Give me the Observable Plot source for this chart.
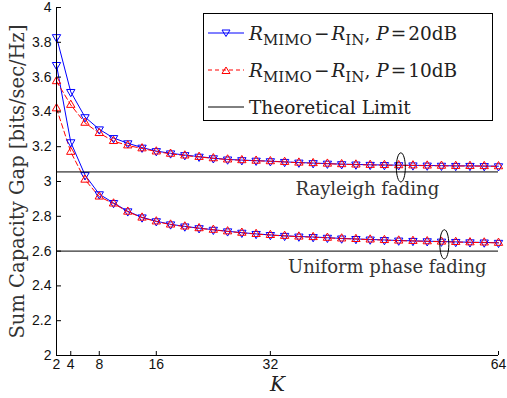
<!DOCTYPE html>
<html>
<head>
<meta charset="utf-8">
<script src="https://cdn.jsdelivr.net/npm/d3@7"></script>
<script src="https://cdn.jsdelivr.net/npm/@observablehq/plot@0.6"></script>
<style>
  html, body { margin: 0; padding: 0; background: #fff; }
  #wrap { position: relative; width: 507px; height: 398px; }
  #legend {
    position: absolute; left: 203px; top: 13px; width: 288px; height: 106px;
    border: 1px solid #000; background: #fff; box-sizing: content-box;
    font-family: "DejaVu Serif", serif; font-size: 18.5px; color: #222;
  }
  .row { position: absolute; left: 0; height: 24px; display: flex; align-items: center; white-space: nowrap; }
  .row svg { margin-left: 4px; margin-right: 5px; flex: none; }
  sub { font-size: 15px; vertical-align: -5px; line-height: 0; font-style: normal; }
  i { font-style: italic; }
  .op { margin: 0 2px; }
</style>
</head>
<body>
<div id="wrap"></div>
<script>
// ---- data ----
const K = [2,4,6,8,10,12,14,16,18,20,22,24,26,28,30,32,34,36,38,40,42,44,46,48,50,52,54,56,58,60,62,64];
const rayleigh20 = [3.83,3.515,3.37,3.30,3.25,3.22,3.195,3.175,3.162,3.152,3.143,3.134,3.127,3.123,3.12,3.117,3.113,3.109,3.106,3.103,3.1,3.098,3.096,3.095,3.094,3.093,3.092,3.091,3.09,3.09,3.089,3.088];
const rayleigh10 = [3.576,3.44,3.337,3.278,3.232,3.207,3.19,3.172,3.159,3.149,3.141,3.133,3.126,3.122,3.119,3.116,3.112,3.108,3.105,3.102,3.099,3.097,3.095,3.094,3.093,3.092,3.091,3.09,3.089,3.089,3.088,3.087];
const uniform20 = [3.67,3.226,3.037,2.927,2.877,2.829,2.794,2.772,2.754,2.742,2.732,2.723,2.714,2.706,2.699,2.693,2.688,2.684,2.681,2.677,2.673,2.67,2.667,2.664,2.661,2.659,2.657,2.655,2.653,2.651,2.65,2.648];
const uniform10 = [3.42,3.17,3.01,2.913,2.873,2.826,2.792,2.77,2.752,2.741,2.731,2.722,2.713,2.705,2.698,2.692,2.687,2.683,2.68,2.676,2.672,2.669,2.666,2.663,2.66,2.658,2.656,2.654,2.652,2.65,2.649,2.647];
const limits = [3.055, 2.6];
const xTicks = [2,4,8,16,32,64];
const yTicks = [2,2.2,2.4,2.6,2.8,3,3.2,3.4,3.6,3.8,4];
const annotations = [
  {K: 45.6, y: 2.955, text: "Rayleigh fading"},
  {K: 48.4, y: 2.505, text: "Uniform phase fading"}
];
const ellipses = [{K: 50.3, y: 3.081}, {K: 56.4, y: 2.639}];
const yLabel = "Sum Capacity Gap [bits/sec/Hz]";
const xLabel = "K";

// ---- build ----
const pts = (ys) => K.map((k, i) => ({K: k, y: ys[i]}));
const ellipseSymbol = {
  draw(ctx) {
    const rx = 4.5, ry = 14.6, c = 0.5523;
    ctx.moveTo(rx, 0);
    ctx.bezierCurveTo(rx, ry * c, rx * c, ry, 0, ry);
    ctx.bezierCurveTo(-rx * c, ry, -rx, ry * c, -rx, 0);
    ctx.bezierCurveTo(-rx, -ry * c, -rx * c, -ry, 0, -ry);
    ctx.bezierCurveTo(rx * c, -ry, rx, -ry * c, rx, 0);
    ctx.closePath();
  }
};
const blue = "#0000ff", red = "#ff0000";
const series = [
  {d: pts(rayleigh20), c: blue, dash: null, rot: 180},
  {d: pts(uniform20), c: blue, dash: null, rot: 180},
  {d: pts(rayleigh10), c: red, dash: "5,3", rot: 0},
  {d: pts(uniform10), c: red, dash: "5,3", rot: 0}
];
const marks = [];
for (const s of series) {
  marks.push(Plot.line(s.d, {x: "K", y: "y", stroke: s.c, strokeWidth: 1, strokeDasharray: s.dash}));
}
for (const s of series) {
  marks.push(Plot.dot(s.d, {x: "K", y: "y", symbol: "triangle", r: 3.1, stroke: s.c, fill: "none", strokeWidth: 1, rotate: s.rot}));
}
marks.push(
  Plot.ruleY(limits, {stroke: "#000", strokeWidth: 1}),
  Plot.dot(ellipses, {x: "K", y: "y", symbol: ellipseSymbol, stroke: "#000", fill: "none", strokeWidth: 1}),
  Plot.text(annotations, {x: "K", y: "y", text: "text", fontFamily: "DejaVu Serif", fontSize: 18, fill: "#333"}),
  Plot.ruleX([2], {stroke: "#000"}),
  Plot.ruleY([2], {stroke: "#000"}),
  Plot.tickY(yTicks, {y: d => d, stroke: "#000", insetRight: 437}),
  Plot.tickX(xTicks, {x: d => d, stroke: "#000", insetTop: 344}),
  Plot.axisY(yTicks, {tickSize: 0, tickPadding: 5, fontSize: 14, fontFamily: "Liberation Sans", fill: "#111", label: null, tickFormat: d => String(d)}),
  Plot.axisX(xTicks, {tickSize: 0, tickPadding: 4, fontSize: 14, fontFamily: "Liberation Sans", fill: "#111", label: null}),
  Plot.text([yLabel], {frameAnchor: "left", textAnchor: "middle", dx: -39, rotate: -90, fontFamily: "DejaVu Serif", fontSize: 19.5, fill: "#333"}),
  Plot.text([xLabel], {frameAnchor: "bottom", dy: 35, fontFamily: "DejaVu Serif", fontStyle: "italic", fontSize: 20, fill: "#222"})
);

const chart = Plot.plot({
  width: 507, height: 398,
  marginLeft: 56, marginRight: 9, marginTop: 7, marginBottom: 43,
  x: {domain: [2, 64]},
  y: {domain: [2, 4]},
  style: {background: "#fff"},
  marks
});
const wrap = document.getElementById("wrap");
wrap.appendChild(chart);

// ---- legend ----
const legendItems = [
  {color: blue, dash: null, rot: 180, text: '<i>R</i><sub>MIMO</sub><span class="op">−</span><i>R</i><sub>IN</sub>, <i>P</i><span class="op">=</span>20dB'},
  {color: red, dash: "4,3", rot: 0, text: '<i>R</i><sub>MIMO</sub><span class="op">−</span><i>R</i><sub>IN</sub>, <i>P</i><span class="op">=</span>10dB'},
  {color: "#000", dash: null, rot: null, text: 'Theoretical Limit'}
];
const legend = document.createElement("div");
legend.id = "legend";
legendItems.forEach((it, i) => {
  const row = document.createElement("div");
  row.className = "row";
  row.style.top = (7 + i * 37) + "px";
  const tri = it.rot === null ? "" :
    `<path d="M-4,${it.rot ? -3 : 3.5} L4,${it.rot ? -3 : 3.5} L0,${it.rot ? 3.5 : -3} Z" transform="translate(18,12)" fill="none" stroke="${it.color}"/>`;
  row.innerHTML = `<svg width="36" height="24"><line x1="0" x2="36" y1="12" y2="12" stroke="${it.color}" ${it.dash ? `stroke-dasharray="${it.dash}"` : ""}/>${tri}</svg><span>${it.text}</span>`;
  legend.appendChild(row);
});
wrap.appendChild(legend);
</script>
</body>
</html>
